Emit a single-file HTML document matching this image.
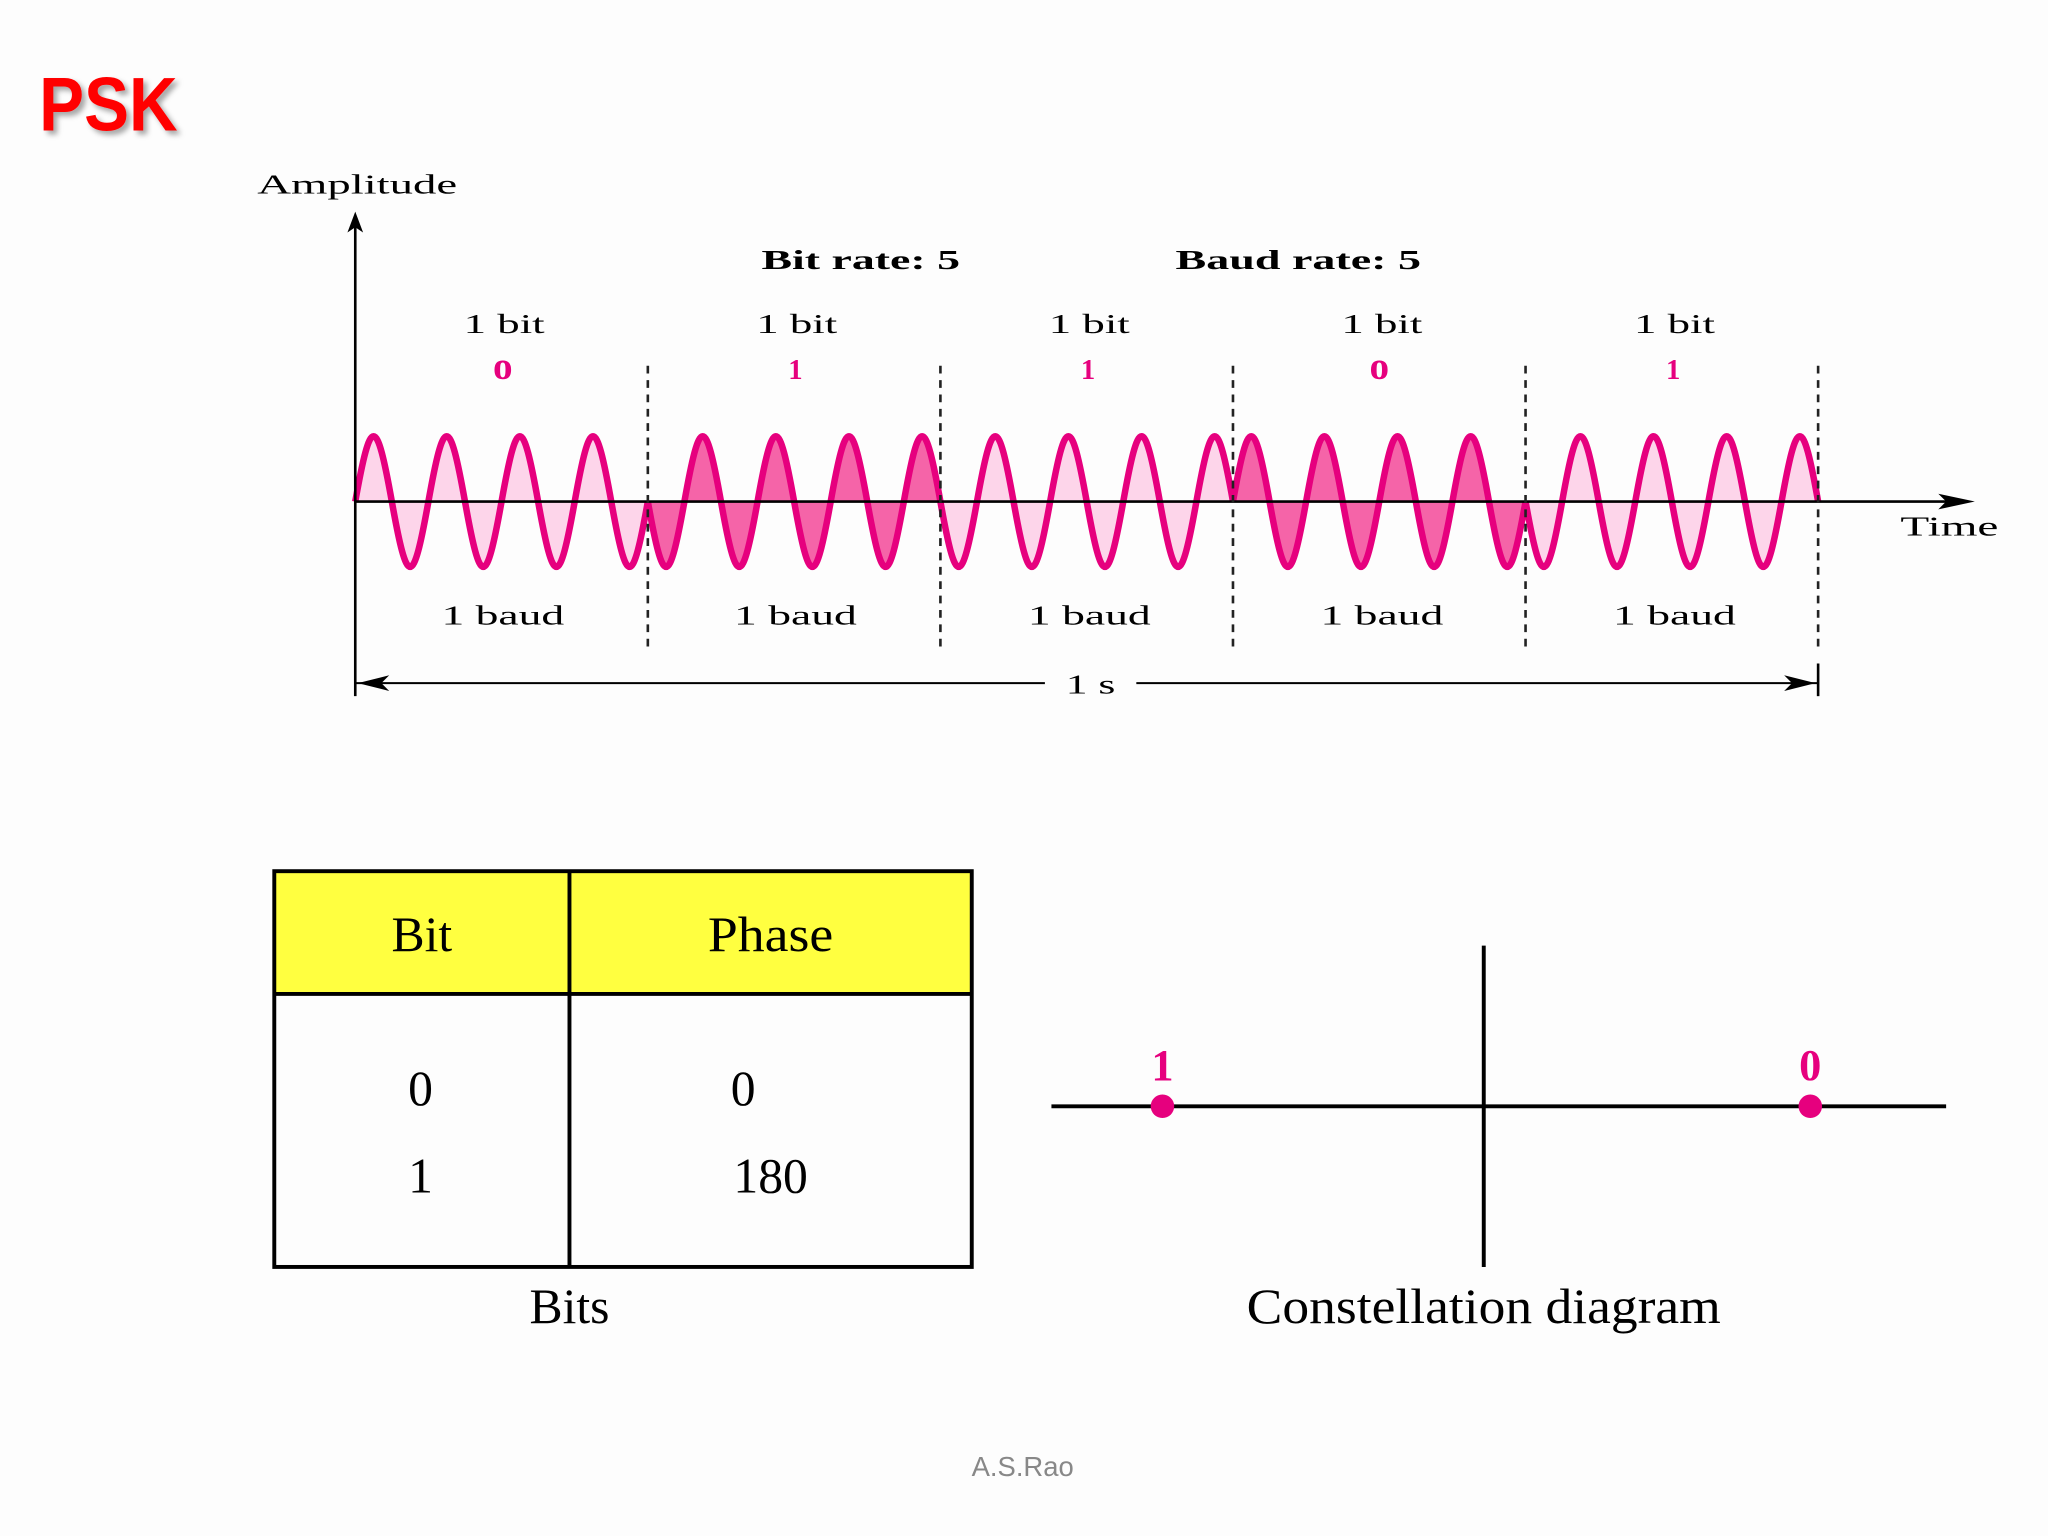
<!DOCTYPE html>
<html><head><meta charset="utf-8"><style>
html,body{margin:0;padding:0;background:#fdfdfd;}
svg{display:block;}
.s{font-family:"Liberation Serif",serif;}
</style></head><body>
<svg width="2048" height="1536" viewBox="0 0 1568 1176" preserveAspectRatio="none" xmlns="http://www.w3.org/2000/svg">
<defs>
<filter id="sh" x="-10%" y="-10%" width="130%" height="130%"><feDropShadow dx="3" dy="3" stdDeviation="2" flood-color="#000" flood-opacity="0.35"/></filter>
<path id="p0" d="M0,0 c11.9,-66.7 16.1,-66.7 28,0 c11.9,66.7 16.1,66.7 28,0 c11.9,-66.7 16.1,-66.7 28,0 c11.9,66.7 16.1,66.7 28,0 c11.9,-66.7 16.1,-66.7 28,0 c11.9,66.7 16.1,66.7 28,0 c11.9,-66.7 16.1,-66.7 28,0 c11.9,66.7 16.1,66.7 28,0"/>
<path id="p1" d="M0,0 c11.9,66.7 16.1,66.7 28,0 c11.9,-66.7 16.1,-66.7 28,0 c11.9,66.7 16.1,66.7 28,0 c11.9,-66.7 16.1,-66.7 28,0 c11.9,66.7 16.1,66.7 28,0 c11.9,-66.7 16.1,-66.7 28,0 c11.9,66.7 16.1,66.7 28,0 c11.9,-66.7 16.1,-66.7 28,0"/>
</defs>
<rect width="1568" height="1176" fill="#fdfdfd"/>
<text x="30" y="100" font-family="Liberation Sans, sans-serif" font-weight="bold" font-size="58" fill="#ff0000" filter="url(#sh)" textLength="106" lengthAdjust="spacingAndGlyphs">PSK</text>

<text class="s" x="197" y="148" font-size="21" textLength="153" lengthAdjust="spacingAndGlyphs">Amplitude</text>
<text class="s" x="1455" y="410" font-size="21" textLength="75" lengthAdjust="spacingAndGlyphs">Time</text>
<text class="s" x="583" y="206" font-size="21" font-weight="bold" textLength="152" lengthAdjust="spacingAndGlyphs">Bit rate: 5</text>
<text class="s" x="900" y="206" font-size="21" font-weight="bold" textLength="188" lengthAdjust="spacingAndGlyphs">Baud rate: 5</text>

<g stroke="#e6007e" stroke-width="5" stroke-linejoin="round">
<use href="#p0" x="272" y="384" fill="#fdd5ea"/>
<use href="#p1" x="496" y="384" fill="#f564a8"/>
<use href="#p1" x="720" y="384" fill="#fdd5ea"/>
<use href="#p0" x="944" y="384" fill="#f564a8"/>
<use href="#p1" x="1168" y="384" fill="#fdd5ea"/>
</g>

<g stroke="#000" stroke-width="2">
<line x1="272" y1="172" x2="272" y2="533"/>
<line x1="272" y1="384" x2="1500" y2="384"/>
<line x1="272" y1="523" x2="800" y2="523" stroke-width="1.5"/>
<line x1="870" y1="523" x2="1392" y2="523" stroke-width="1.5"/>
<line x1="1392" y1="508" x2="1392" y2="533"/>
</g>
<path d="M272,162 L266,178 L272,174 L278,178 Z" fill="#000"/>
<path d="M1512,384 L1484,378 L1490,384 L1484,390 Z" fill="#000"/>
<path d="M274,523 L298,517 L292,523 L298,529 Z" fill="#000"/>
<path d="M1390,523 L1366,517 L1372,523 L1366,529 Z" fill="#000"/>
<g stroke="#222" stroke-width="2" stroke-dasharray="6,5">
<line x1="496" y1="280" x2="496" y2="500"/>
<line x1="720" y1="280" x2="720" y2="500"/>
<line x1="944" y1="280" x2="944" y2="500"/>
<line x1="1168" y1="280" x2="1168" y2="500"/>
<line x1="1392" y1="280" x2="1392" y2="500"/>
</g>
<text class="s" x="816" y="531" font-size="21" textLength="38" lengthAdjust="spacingAndGlyphs">1 s</text>

<g class="s" font-size="21" text-anchor="middle">
<text x="386" y="255" textLength="62" lengthAdjust="spacingAndGlyphs">1 bit</text>
<text x="610" y="255" textLength="62" lengthAdjust="spacingAndGlyphs">1 bit</text>
<text x="834" y="255" textLength="62" lengthAdjust="spacingAndGlyphs">1 bit</text>
<text x="1058" y="255" textLength="62" lengthAdjust="spacingAndGlyphs">1 bit</text>
<text x="1282" y="255" textLength="62" lengthAdjust="spacingAndGlyphs">1 bit</text>
<text x="385" y="478" textLength="94" lengthAdjust="spacingAndGlyphs">1 baud</text>
<text x="609" y="478" textLength="94" lengthAdjust="spacingAndGlyphs">1 baud</text>
<text x="834" y="478" textLength="94" lengthAdjust="spacingAndGlyphs">1 baud</text>
<text x="1058" y="478" textLength="94" lengthAdjust="spacingAndGlyphs">1 baud</text>
<text x="1282" y="478" textLength="94" lengthAdjust="spacingAndGlyphs">1 baud</text>
</g>
<g class="s" font-weight="bold" fill="#e6007e" text-anchor="middle">
<text x="385" y="290" font-size="30">o</text>
<text x="609" y="290" font-size="22">1</text>
<text x="833" y="290" font-size="22">1</text>
<text x="1056" y="290" font-size="30">o</text>
<text x="1281" y="290" font-size="22">1</text>
</g>

<rect x="210" y="667" width="534" height="94" fill="#ffff40"/>
<g stroke="#000" stroke-width="3" fill="none">
<rect x="210" y="667" width="534" height="303"/>
<line x1="210" y1="761" x2="744" y2="761"/>
<line x1="436" y1="667" x2="436" y2="970"/>
</g>
<g class="s" font-size="38" text-anchor="middle">
<text x="323" y="728">Bit</text>
<text x="590" y="728" textLength="96" lengthAdjust="spacingAndGlyphs">Phase</text>
<text x="322" y="846">0</text>
<text x="569" y="846">0</text>
<text x="322" y="913">1</text>
<text x="590" y="913">180</text>
<text x="436" y="1013">Bits</text>
<text x="1136" y="1013" textLength="363" lengthAdjust="spacingAndGlyphs">Constellation diagram</text>
</g>

<g stroke="#000" stroke-width="3">
<line x1="805" y1="847" x2="1490" y2="847"/>
<line x1="1136" y1="724" x2="1136" y2="970"/>
</g>
<circle cx="890" cy="847" r="9" fill="#e6007e"/>
<circle cx="1386" cy="847" r="9" fill="#e6007e"/>
<g class="s" font-size="34" font-weight="bold" fill="#e6007e" text-anchor="middle">
<text x="890" y="827">1</text>
<text x="1386" y="827">0</text>
</g>

<text x="783" y="1130" font-family="Liberation Sans, sans-serif" font-size="21" fill="#888" text-anchor="middle">A.S.Rao</text>
</svg>
</body></html>
